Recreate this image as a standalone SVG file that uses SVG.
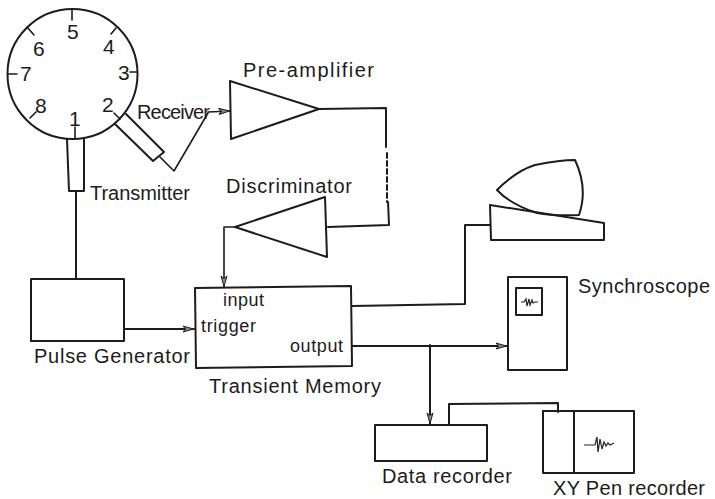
<svg xmlns="http://www.w3.org/2000/svg" width="715" height="499" viewBox="0 0 715 499">
<defs>
<marker id="arr" viewBox="0 0 12 8" refX="11.5" refY="4" markerWidth="12" markerHeight="8" markerUnits="userSpaceOnUse" orient="auto"><path d="M0.5 1 L11 4 L0.5 7 L3 4 Z" fill="#888" stroke="#222" stroke-width="1"/></marker>
</defs>
<style>
.s{fill:none;stroke:#1c1c1c;stroke-width:2;stroke-linejoin:round;stroke-linecap:round}
.t{stroke-width:1.6}
text{font-family:"Liberation Sans",Arial,sans-serif;fill:#1c1c1c;font-size:20px}
.n{font-size:21px}
.i{font-size:18px}
.w{fill:none;stroke:#222;stroke-width:1.2}
</style>
<rect width="715" height="499" fill="#fff"/>
<g id="connectors">
<path class="s" d="M76 192V278"/>
<path class="s t" d="M160 157L174 171L208 113" />
<path class="s t" d="M208 112L230 111" marker-end="url(#arr)"/>
<path class="s" d="M319 109L386 108V147"/>
<path class="s" d="M387 153V202" stroke-dasharray="5 3"/>
<path class="s" d="M388 202L389 225L328 227"/>
<path class="s t" d="M235 227L224 227V287" marker-end="url(#arr)"/>
<path class="s" d="M124 329L194 329" marker-end="url(#arr)"/>
<path class="s" d="M352 306L465 304V225H490"/>
<path class="s" d="M352 346L507 346" marker-end="url(#arr)"/>
<path class="s" d="M430 345V424" marker-end="url(#arr)"/>
<path class="s" d="M449 425V404L558 403V412"/>
</g>
<g id="sample">
<circle class="s" cx="72.5" cy="74" r="65"/>
<path class="s t" d="M72 9V20M27 27L34 35M116 28L111 34M8 74H17M137 72H130M30 118L36 112M114 113L120 119M75 127V139"/>
<text class="n" x="67" y="39">5</text>
<text class="n" x="33" y="56">6</text>
<text class="n" x="103" y="54">4</text>
<text class="n" x="20" y="81">7</text>
<text class="n" x="118" y="80">3</text>
<text class="n" x="35" y="113">8</text>
<text class="n" x="102" y="112">2</text>
<text class="n" x="69" y="126">1</text>
</g>
<g id="transmitter">
<path class="s" d="M67 139L69 191H84V138"/>
<text x="90" y="200" textLength="100">Transmitter</text>
</g>
<g id="receiver">
<path class="s" d="M126 114L164 152L153 161L115 124"/>
<text x="137" y="119" textLength="73">Receiver</text>
</g>
<g id="preamp">
<path class="s" d="M230 81L231 139L319 109Z"/>
<text x="243" y="77" textLength="131">Pre-amplifier</text>
</g>
<g id="discriminator">
<path class="s" d="M325 197L327 257L235 227Z"/>
<text x="226" y="193" textLength="126">Discriminator</text>
</g>
<g id="pulse-generator">
<rect class="s" x="31" y="279" width="93" height="62"/>
<text x="34" y="363" textLength="156">Pulse Generator</text>
</g>
<g id="transient-memory">
<path class="s" d="M195 288L351 286L352 366L196 368Z"/>
<text class="i" x="223" y="306" textLength="41">input</text>
<text class="i" x="201" y="332" textLength="55">trigger</text>
<text class="i" x="290" y="352" textLength="53">output</text>
<text x="209" y="393" textLength="172">Transient Memory</text>
</g>
<g id="display">
<path class="s" d="M497 190C510 177 522 169 535 165C550 162 565 160 575 160C582 175 586 195 579 215C560 216 548 215 537 213C522 208 508 202 497 190Z"/>
<path class="s" d="M490 205L604 223V240L491 240Z"/>
</g>
<g id="synchroscope">
<rect class="s" x="508" y="277" width="59" height="93"/>
<rect class="s" x="516" y="288" width="26" height="27"/>
<path class="w" d="M521 302H524L526 299L527 306L529 299L530 305L532 300L533 303L535 302H538"/>
<text x="578" y="293" textLength="132">Synchroscope</text>
</g>
<g id="data-recorder">
<rect class="s" x="375" y="425" width="112" height="36"/>
<text x="382" y="483" textLength="130">Data recorder</text>
</g>
<g id="xy-pen-recorder">
<rect class="s" x="543" y="411" width="91" height="62"/>
<path class="s" d="M574 412V472"/>
<path class="w" d="M584 445H595L597 437L598 452L600 439L602 449L604 442L606 446L608 443L610 445L614 443"/>
<text x="553" y="494.5" textLength="152">XY Pen recorder</text>
</g>
</svg>
